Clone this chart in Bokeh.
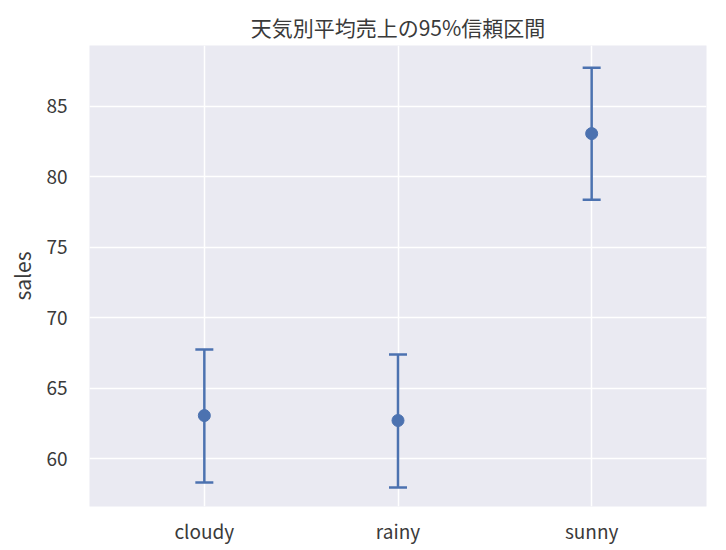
from bokeh.plotting import figure
from bokeh.models import ColumnDataSource, FactorRange, Range1d, Whisker, TeeHead, FixedTicker
from bokeh.embed import file_html
from bokeh.resources import INLINE

categories = ["cloudy", "rainy", "sunny"]
means = [63.05, 62.70, 83.05]
lower = [58.30, 57.95, 78.35]
upper = [67.73, 67.38, 87.73]
y_ticks = [60, 65, 70, 75, 80, 85]

FONT = "Noto Sans CJK JP"
BLUE = "#4C72B0"
TXT = "#3a3a3a"

src = ColumnDataSource(dict(cat=categories, mean=means, lower=lower, upper=upper))

p = figure(width=718, height=546, output_backend="svg", toolbar_location=None,
           x_range=FactorRange(factors=categories, range_padding=0.062),
           y_range=Range1d(56.6, 89.3),
           title="天気別平均売上の95%信頼区間",
           min_border_left=89, min_border_right=12, min_border_top=45, min_border_bottom=30)

p.background_fill_color = "#EAEAF2"
p.border_fill_color = "white"
p.outline_line_color = None

p.title.align = "center"
p.title.text_font = FONT
p.title.text_font_size = "21px"
p.title.text_font_style = "normal"
p.title.text_color = TXT
p.title.offset = 0
p.title.standoff = 8

for ax in (p.xaxis[0], p.yaxis[0]):
    ax.axis_line_color = None
    ax.major_tick_line_color = None
    ax.minor_tick_line_color = None
    ax.major_label_text_font = FONT
    ax.major_label_text_font_size = "19px"
    ax.major_label_text_color = TXT
    ax.axis_label_text_font = FONT
    ax.axis_label_text_font_size = "21px"
    ax.axis_label_text_font_style = "normal"
    ax.axis_label_text_color = TXT

p.yaxis[0].ticker = FixedTicker(ticks=y_ticks)
p.yaxis[0].axis_label = "sales"
p.yaxis[0].major_label_standoff = 16
p.yaxis[0].axis_label_standoff = 6
p.xaxis[0].major_label_standoff = 4

p.xgrid.grid_line_color = "white"
p.xgrid.grid_line_width = 1.5
p.ygrid.grid_line_color = "white"
p.ygrid.grid_line_width = 1.5

w = Whisker(source=src, base="cat", lower="lower", upper="upper",
            line_color=BLUE, line_width=2.5,
            upper_head=TeeHead(size=18, line_color=BLUE, line_width=2.5),
            lower_head=TeeHead(size=18, line_color=BLUE, line_width=2.5))
p.add_layout(w)

p.scatter(x="cat", y="mean", source=src, size=12, fill_color=BLUE, line_color=BLUE)

open("out.html", "w").write(file_html(p, INLINE))
